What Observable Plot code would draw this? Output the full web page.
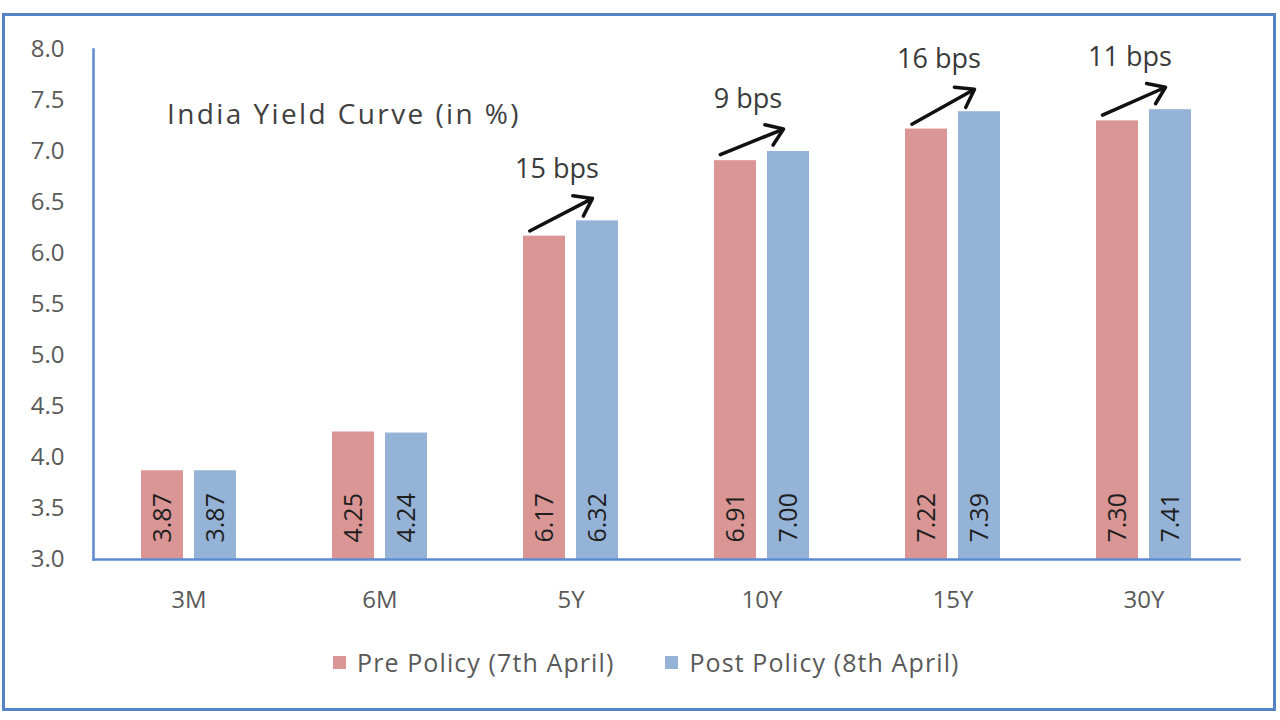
<!DOCTYPE html>
<html>
<head>
<meta charset="utf-8">
<script src="https://cdn.jsdelivr.net/npm/d3@7"></script>
<script src="https://cdn.jsdelivr.net/npm/@observablehq/plot@0.6"></script>
<style>
  html, body { margin: 0; padding: 0; background: #ffffff; }
  #wrap { position: relative; width: 1280px; height: 720px; overflow: hidden; font-family: "Open Sans", sans-serif; background: #fff; }
  #chart { position: absolute; left: 0; top: 0; }
  #title { position: absolute; left: 167px; top: 93px; height: 40px; line-height: 40px; font-size: 28px; letter-spacing: 2.4px; color: #404040; white-space: nowrap; }
  #legend { position: absolute; left: 333px; top: 640px; height: 44px; display: flex; align-items: center; font-size: 25px; letter-spacing: 1.1px; color: #595959; white-space: nowrap; }
  .item { display: flex; align-items: center; margin-right: 51px; }
  .sw { width: 13px; height: 13px; margin-right: 11px; }
  #border { position: absolute; left: 2px; top: 13px; width: 1268px; height: 692px; border: 3px solid #5584c4; pointer-events: none; }
</style>
</head>
<body>
<div id="wrap">
  <div id="chart"></div>
  <div id="title"></div>
  <div id="legend"></div>
  <div id="border"></div>
</div>
<script>
// ---- data ----
const title = "India Yield Curve (in %)";
const categories = ["3M", "6M", "5Y", "10Y", "15Y", "30Y"];
const series = ["Pre Policy (7th April)", "Post Policy (8th April)"];
const preValues = [3.87, 4.25, 6.17, 6.91, 7.22, 7.30];
const postValues = [3.87, 4.24, 6.32, 7.00, 7.39, 7.41];
const bpsChange = [null, null, 15, 9, 16, 11];
const yTicks = [3.0, 3.5, 4.0, 4.5, 5.0, 5.5, 6.0, 6.5, 7.0, 7.5, 8.0];
const seriesColors = ["#d99694", "#95b3d7"];

// ---- tables built from the arrays ----
const rows = categories.flatMap((c, i) => [
  {category: c, series: series[0], value: preValues[i]},
  {category: c, series: series[1], value: postValues[i]}
]);
const moves = categories
  .map((c, i) => ({category: c, pre: preValues[i], post: postValues[i], bps: bpsChange[i]}))
  .filter(d => d.bps != null);

const axisBlue = "#5b8bd0";

const chart = Plot.plot({
  width: 1280,
  height: 640,
  marginLeft: 92,
  marginRight: 40,
  marginTop: 49,
  marginBottom: 81,
  style: {fontFamily: '"Open Sans", sans-serif', fontSize: "24px", color: "#595959", background: "transparent", overflow: "visible"},
  fx: {domain: categories, paddingInner: 0, paddingOuter: 0, label: null, tickSize: 0, tickPadding: 31},
  x: {domain: series, paddingInner: 0.213, paddingOuter: 0.878, axis: null},
  y: {domain: [yTicks[0], yTicks[yTicks.length - 1]], ticks: yTicks, tickFormat: d => d.toFixed(1), tickSize: 0, tickPadding: 29, label: null},
  color: {domain: series, range: seriesColors},
  marks: [
    Plot.barY(rows, {fx: "category", x: "series", y1: yTicks[0], y2: "value", fill: "series"}),
    Plot.text(rows, {
      fx: "category", x: "series", text: d => d.value.toFixed(2),
      frameAnchor: "bottom", rotate: -90, textAnchor: "start", lineAnchor: "middle",
      dy: -17, fontSize: 25, fill: "#1f1f1f"
    }),
    Plot.arrow(moves, {
      fx: "category",
      x1: () => series[0], y1: d => d.pre + 0.1,
      x2: () => series[1], y2: d => d.post + 0.22,
      stroke: "#111", strokeWidth: 3.5, headLength: 12, headAngle: 70,
      dx: -5, insetStart: -11
    }),
    Plot.text(moves, {
      fx: "category", y: "post", text: d => `${d.bps} bps`,
      dy: -52, dx: -14, fontSize: 27, fill: "#3a3a3a"
    }),
    Plot.frame({anchor: "left", stroke: axisBlue, strokeWidth: 2.5, facet: "super"}),
    Plot.frame({anchor: "bottom", stroke: axisBlue, strokeWidth: 2.5, facet: "super"})
  ]
});
document.getElementById("chart").appendChild(chart);

document.getElementById("title").textContent = title;

const legend = document.getElementById("legend");
series.forEach((s, i) => {
  const item = document.createElement("div");
  item.className = "item";
  const sw = document.createElement("div");
  sw.className = "sw";
  sw.style.background = seriesColors[i];
  const label = document.createElement("span");
  label.textContent = s;
  item.appendChild(sw);
  item.appendChild(label);
  legend.appendChild(item);
});
</script>
</body>
</html>
